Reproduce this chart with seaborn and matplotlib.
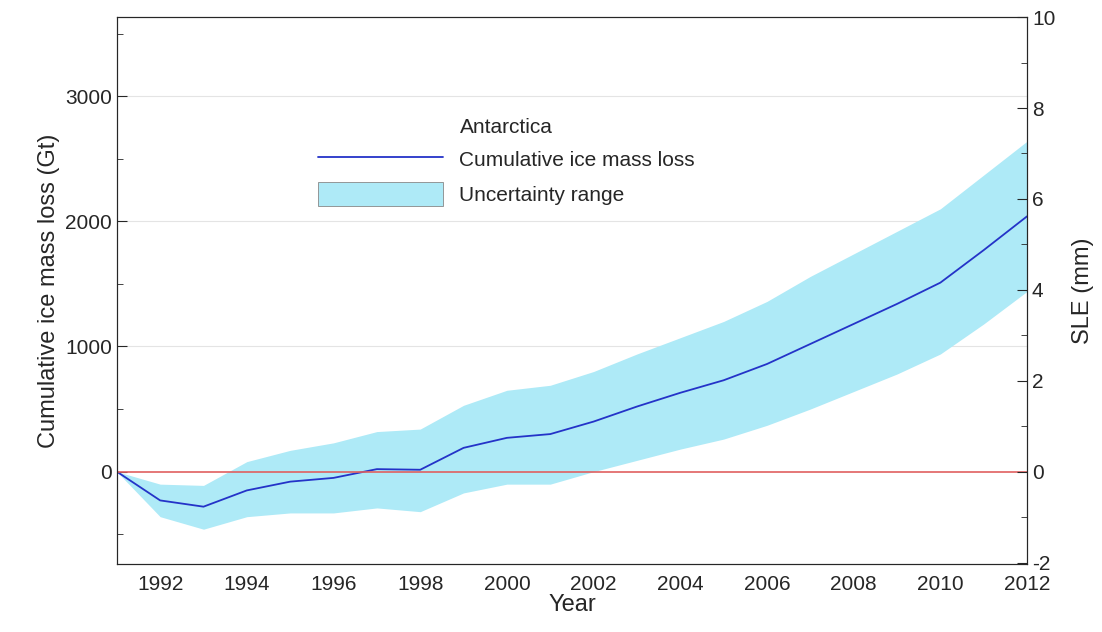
import numpy as np
import pandas as pd
import seaborn as sns
import matplotlib.pyplot as plt
from matplotlib.patches import Patch
from matplotlib.lines import Line2D
from matplotlib.ticker import MultipleLocator

years = list(range(1991, 2013))
loss = [0, -230, -280, -150, -80, -50, 20, 15, 190, 270, 300, 400, 520, 630,
        730, 860, 1020, 1180, 1340, 1510, 1770, 2040]
upper = [0, -100, -110, 80, 170, 230, 320, 340, 530, 650, 690, 800, 940, 1070,
         1200, 1360, 1560, 1740, 1920, 2100, 2370, 2640]
lower = [0, -360, -460, -360, -330, -330, -290, -320, -170, -100, -100, 0, 90,
         180, 260, 370, 500, 640, 780, 940, 1180, 1440]

df = pd.DataFrame({'year': years, 'loss': loss})
gt_per_mm = 364.0

sns.set_style('white')
plt.rcParams['font.family'] = ['Liberation Sans', 'DejaVu Sans']
plt.rcParams['axes.unicode_minus'] = False

fig, ax = plt.subplots(figsize=(11.02, 6.32), dpi=100)
fig.subplots_adjust(left=0.106, right=0.932, top=0.973, bottom=0.108)

ax.fill_between(years, lower, upper, color='#aeeaf7', lw=0)
sns.lineplot(data=df, x='year', y='loss', ax=ax, color='#2433c8', lw=1.3)
ax.axhline(0, color='#e06060', lw=1.2)
for g in [1000, 2000, 3000]:
    ax.axhline(g, color='#e4e4e4', lw=0.8, zorder=0)

ax.set_xlim(1991, 2012)
ax.set_ylim(-736, 3632)
ax.set_xticks(range(1992, 2013, 2))
ax.xaxis.set_minor_locator(MultipleLocator(1))
ax.set_yticks([0, 1000, 2000, 3000])
ax.yaxis.set_minor_locator(MultipleLocator(500))
ax.tick_params(which='both', direction='in', labelsize=15)
ax.tick_params(which='major', length=7)
ax.tick_params(which='minor', length=4)
ax.tick_params(axis='x', pad=8)
ax.set_xlabel('Year', fontsize=17, labelpad=0)
ax.set_ylabel('Cumulative ice mass loss (Gt)', fontsize=17)
for s in ax.spines.values():
    s.set_color('#333333')

ax2 = ax.twinx()
ax2.set_ylim(-736 / gt_per_mm, 3632 / gt_per_mm)
ax2.set_yticks(range(-2, 11, 2))
ax2.yaxis.set_minor_locator(MultipleLocator(1))
ax2.tick_params(which='both', direction='in', labelsize=15)
ax2.tick_params(which='major', length=7)
ax2.tick_params(which='minor', length=4)
ax2.set_ylabel('SLE (mm)', fontsize=17, labelpad=12)

handles = [Line2D([], [], color='#2433c8', lw=1.3),
           Patch(facecolor='#aeeaf7', edgecolor='#888888', lw=0.6)]
ax.legend(handles, ['Cumulative ice mass loss', 'Uncertainty range'],
          title='Antarctica', title_fontsize=15, fontsize=15, frameon=False,
          loc='upper left', bbox_to_anchor=(0.2, 0.85), handlelength=6,
          handleheight=1.4, labelspacing=0.5)

fig.savefig('out.png')
